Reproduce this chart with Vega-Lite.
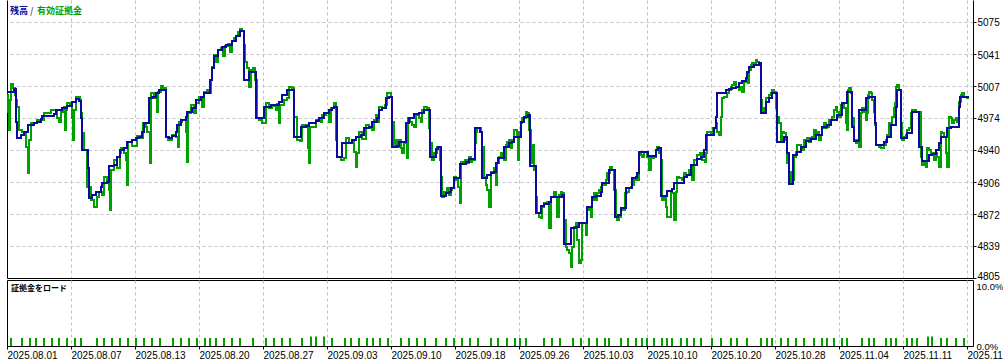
{
"$schema": "https://vega.github.io/schema/vega-lite/v6.json",
"background": "white",
"padding": {"left": 3, "top": 0, "right": 0, "bottom": 0},
"config": {"view": {"stroke": null}, "axis": {"labelFont": "Liberation Sans", "labelFontSize": 10, "labelColor": "black", "domainColor": "black", "tickColor": "black"}},
"datasets": {
"balance": [{"n":0,"v":5001.2},{"n":7,"v":5004.3},{"n":9,"v":4969.5},{"n":10,"v":4952.7},{"n":14,"v":4955.8},{"n":17,"v":4959.0},{"n":21,"v":4966.4},{"n":27,"v":4968.5},{"n":30,"v":4969.5},{"n":34,"v":4972.7},{"n":35,"v":4975.9},{"n":47,"v":4978.0},{"n":49,"v":4982.2},{"n":55,"v":4984.3},{"n":60,"v":4986.4},{"n":65,"v":4990.6},{"n":69,"v":4993.8},{"n":72,"v":4991.7},{"n":74,"v":4973.8},{"n":75,"v":4940.0},{"n":81,"v":4921.0},{"n":82,"v":4889.4},{"n":85,"v":4892.5},{"n":89,"v":4895.7},{"n":94,"v":4901.0},{"n":95,"v":4905.2},{"n":100,"v":4906.2},{"n":102,"v":4923.1},{"n":107,"v":4924.2},{"n":110,"v":4932.6},{"n":113,"v":4940.0},{"n":117,"v":4942.1},{"n":120,"v":4948.4},{"n":125,"v":4950.5},{"n":129,"v":4952.7},{"n":132,"v":4953.7},{"n":135,"v":4959.0},{"n":137,"v":4968.5},{"n":142,"v":4994.8},{"n":145,"v":4995.9},{"n":149,"v":5000.1},{"n":152,"v":5003.3},{"n":159,"v":4953.7},{"n":162,"v":4952.7},{"n":165,"v":4954.8},{"n":169,"v":4959.0},{"n":170,"v":4966.4},{"n":174,"v":4971.6},{"n":179,"v":4974.8},{"n":180,"v":4980.1},{"n":185,"v":4984.3},{"n":189,"v":4992.7},{"n":194,"v":4995.9},{"n":197,"v":5000.1},{"n":203,"v":5013.8},{"n":205,"v":5026.5},{"n":207,"v":5039.1},{"n":211,"v":5045.5},{"n":215,"v":5048.6},{"n":219,"v":5050.7},{"n":225,"v":5055.0},{"n":229,"v":5060.2},{"n":233,"v":5065.5},{"n":237,"v":5013.8},{"n":242,"v":5022.3},{"n":249,"v":4973.8},{"n":257,"v":4985.4},{"n":264,"v":4987.5},{"n":272,"v":4990.6},{"n":275,"v":4998.0},{"n":280,"v":5003.3},{"n":287,"v":4953.7},{"n":294,"v":4964.3},{"n":299,"v":4965.3},{"n":302,"v":4968.5},{"n":309,"v":4970.6},{"n":312,"v":4973.8},{"n":317,"v":4979.0},{"n":322,"v":4982.2},{"n":325,"v":4984.3},{"n":327,"v":4985.4},{"n":330,"v":4932.6},{"n":335,"v":4947.4},{"n":345,"v":4950.5},{"n":349,"v":4953.7},{"n":354,"v":4955.8},{"n":357,"v":4963.2},{"n":362,"v":4964.3},{"n":365,"v":4969.5},{"n":370,"v":4973.8},{"n":372,"v":4982.2},{"n":375,"v":4984.3},{"n":379,"v":4994.8},{"n":382,"v":4995.9},{"n":385,"v":4943.2},{"n":390,"v":4944.2},{"n":392,"v":4948.4},{"n":399,"v":4968.5},{"n":402,"v":4973.8},{"n":407,"v":4978.0},{"n":412,"v":4979.0},{"n":417,"v":4982.2},{"n":423,"v":4932.6},{"n":429,"v":4941.1},{"n":431,"v":4943.2},{"n":434,"v":4891.5},{"n":439,"v":4894.6},{"n":442,"v":4895.7},{"n":444,"v":4899.9},{"n":447,"v":4910.5},{"n":453,"v":4925.2},{"n":459,"v":4927.3},{"n":462,"v":4930.5},{"n":468,"v":4963.2},{"n":473,"v":4959.0},{"n":475,"v":4910.5},{"n":480,"v":4913.6},{"n":484,"v":4915.7},{"n":487,"v":4916.8},{"n":489,"v":4926.3},{"n":491,"v":4931.6},{"n":497,"v":4943.2},{"n":502,"v":4947.4},{"n":505,"v":4948.4},{"n":507,"v":4953.7},{"n":514,"v":4969.5},{"n":517,"v":4974.8},{"n":521,"v":4976.9},{"n":523,"v":4923.1},{"n":529,"v":4873.6},{"n":534,"v":4880.9},{"n":537,"v":4883.0},{"n":542,"v":4885.2},{"n":544,"v":4890.4},{"n":555,"v":4892.5},{"n":557,"v":4840.9},{"n":564,"v":4857.7},{"n":569,"v":4858.8},{"n":572,"v":4863.0},{"n":580,"v":4879.9},{"n":585,"v":4890.4},{"n":589,"v":4891.5},{"n":594,"v":4895.7},{"n":595,"v":4905.2},{"n":602,"v":4918.9},{"n":608,"v":4869.3},{"n":611,"v":4871.4},{"n":614,"v":4878.8},{"n":619,"v":4899.9},{"n":625,"v":4910.5},{"n":629,"v":4911.5},{"n":630,"v":4915.7},{"n":632,"v":4937.9},{"n":641,"v":4933.7},{"n":649,"v":4940.0},{"n":651,"v":4942.1},{"n":654,"v":4891.5},{"n":660,"v":4896.8},{"n":665,"v":4898.9},{"n":667,"v":4905.2},{"n":677,"v":4911.5},{"n":680,"v":4913.6},{"n":684,"v":4924.2},{"n":690,"v":4930.5},{"n":694,"v":4932.6},{"n":697,"v":4940.0},{"n":699,"v":4955.8},{"n":707,"v":4963.2},{"n":709,"v":4974.8},{"n":710,"v":5000.1},{"n":719,"v":5003.3},{"n":722,"v":5004.3},{"n":725,"v":5005.4},{"n":729,"v":5006.4},{"n":732,"v":5010.7},{"n":735,"v":5012.8},{"n":739,"v":5015.9},{"n":740,"v":5022.3},{"n":742,"v":5027.5},{"n":747,"v":5029.6},{"n":752,"v":5031.8},{"n":754,"v":4979.0},{"n":759,"v":4990.6},{"n":762,"v":4994.8},{"n":765,"v":5000.1},{"n":770,"v":4948.4},{"n":777,"v":4953.7},{"n":780,"v":4936.8},{"n":782,"v":4904.1},{"n":786,"v":4934.7},{"n":790,"v":4937.9},{"n":794,"v":4943.2},{"n":799,"v":4949.5},{"n":804,"v":4951.6},{"n":809,"v":4955.8},{"n":815,"v":4964.3},{"n":820,"v":4966.4},{"n":824,"v":4971.6},{"n":830,"v":4976.9},{"n":835,"v":4989.6},{"n":840,"v":5001.2},{"n":845,"v":4964.3},{"n":847,"v":4949.5},{"n":852,"v":4982.2},{"n":859,"v":4994.8},{"n":862,"v":4995.9},{"n":868,"v":4968.5},{"n":869,"v":4945.3},{"n":877,"v":4948.4},{"n":880,"v":4953.7},{"n":884,"v":4966.4},{"n":889,"v":4985.4},{"n":890,"v":5003.3},{"n":894,"v":4952.7},{"n":900,"v":4957.9},{"n":905,"v":4980.1},{"n":912,"v":4943.2},{"n":915,"v":4928.4},{"n":922,"v":4934.7},{"n":925,"v":4935.8},{"n":929,"v":4940.0},{"n":932,"v":4947.4},{"n":934,"v":4953.7},{"n":940,"v":4963.2},{"n":944,"v":4964.3},{"n":952,"v":4985.4},{"n":953,"v":4995.9},{"n":962,"v":4995.9}],
"equity": [{"n":0,"v":4998.0},{"n":1,"v":4980.1},{"n":2,"v":4961.1},{"n":3,"v":4992.7},{"n":4,"v":5009.6},{"n":6,"v":5005.4},{"n":8,"v":4998.0},{"n":9,"v":4992.7},{"n":10,"v":4985.4},{"n":12,"v":4961.1},{"n":15,"v":4959.0},{"n":19,"v":4943.2},{"n":21,"v":4915.7},{"n":22,"v":4950.5},{"n":24,"v":4968.5},{"n":30,"v":4971.6},{"n":37,"v":4979.0},{"n":44,"v":4982.2},{"n":47,"v":4982.2},{"n":50,"v":4973.8},{"n":52,"v":4969.5},{"n":54,"v":4980.1},{"n":57,"v":4985.4},{"n":58,"v":4961.1},{"n":59,"v":4982.2},{"n":60,"v":4989.6},{"n":63,"v":4986.4},{"n":65,"v":4973.8},{"n":66,"v":4950.5},{"n":67,"v":4982.2},{"n":69,"v":4995.9},{"n":73,"v":4992.7},{"n":74,"v":4979.0},{"n":75,"v":4957.9},{"n":77,"v":4940.0},{"n":80,"v":4901.0},{"n":84,"v":4887.3},{"n":87,"v":4879.9},{"n":90,"v":4890.4},{"n":92,"v":4895.7},{"n":95,"v":4892.5},{"n":97,"v":4911.5},{"n":100,"v":4908.4},{"n":102,"v":4897.8},{"n":103,"v":4876.7},{"n":104,"v":4918.9},{"n":107,"v":4929.5},{"n":110,"v":4921.0},{"n":113,"v":4936.8},{"n":114,"v":4942.1},{"n":117,"v":4936.8},{"n":119,"v":4929.5},{"n":120,"v":4903.1},{"n":121,"v":4948.4},{"n":125,"v":4944.2},{"n":130,"v":4954.8},{"n":134,"v":4952.7},{"n":136,"v":4968.5},{"n":139,"v":4964.3},{"n":140,"v":4959.0},{"n":143,"v":4926.3},{"n":144,"v":5000.1},{"n":147,"v":4994.8},{"n":150,"v":4980.1},{"n":151,"v":5001.2},{"n":154,"v":5007.5},{"n":156,"v":5005.4},{"n":159,"v":4953.7},{"n":161,"v":4950.5},{"n":164,"v":4950.5},{"n":165,"v":4955.8},{"n":169,"v":4953.7},{"n":171,"v":4943.2},{"n":172,"v":4969.5},{"n":175,"v":4971.6},{"n":179,"v":4959.0},{"n":180,"v":4927.3},{"n":181,"v":4979.0},{"n":184,"v":4987.5},{"n":187,"v":4979.0},{"n":189,"v":4989.6},{"n":192,"v":4995.9},{"n":195,"v":4985.4},{"n":197,"v":5001.2},{"n":200,"v":5003.3},{"n":202,"v":5000.1},{"n":204,"v":5013.8},{"n":205,"v":5027.5},{"n":207,"v":5040.2},{"n":209,"v":5032.8},{"n":211,"v":5045.5},{"n":214,"v":5047.6},{"n":216,"v":5039.1},{"n":218,"v":5049.7},{"n":221,"v":5051.8},{"n":223,"v":5043.4},{"n":225,"v":5055.0},{"n":227,"v":5058.1},{"n":229,"v":5060.2},{"n":231,"v":5064.5},{"n":233,"v":5067.6},{"n":235,"v":5065.5},{"n":237,"v":5050.7},{"n":238,"v":5032.8},{"n":240,"v":5026.5},{"n":242,"v":5006.4},{"n":244,"v":5024.4},{"n":246,"v":5026.5},{"n":248,"v":5013.8},{"n":250,"v":4973.8},{"n":252,"v":4971.6},{"n":255,"v":4968.5},{"n":259,"v":4989.6},{"n":262,"v":4984.3},{"n":265,"v":4986.4},{"n":269,"v":4982.2},{"n":270,"v":4988.5},{"n":272,"v":4968.5},{"n":273,"v":4987.5},{"n":277,"v":4992.7},{"n":280,"v":4994.8},{"n":282,"v":5006.4},{"n":285,"v":5005.4},{"n":287,"v":4974.8},{"n":290,"v":4950.5},{"n":293,"v":4949.5},{"n":295,"v":4966.4},{"n":299,"v":4966.4},{"n":301,"v":4942.1},{"n":302,"v":4926.3},{"n":303,"v":4964.3},{"n":309,"v":4971.6},{"n":312,"v":4973.8},{"n":314,"v":4969.5},{"n":315,"v":4976.9},{"n":319,"v":4979.0},{"n":322,"v":4969.5},{"n":324,"v":4984.3},{"n":327,"v":4989.6},{"n":329,"v":4950.5},{"n":330,"v":4932.6},{"n":334,"v":4929.5},{"n":337,"v":4931.6},{"n":339,"v":4952.7},{"n":342,"v":4947.4},{"n":345,"v":4948.4},{"n":347,"v":4937.9},{"n":349,"v":4922.1},{"n":350,"v":4936.8},{"n":352,"v":4959.0},{"n":355,"v":4951.6},{"n":359,"v":4966.4},{"n":362,"v":4963.2},{"n":365,"v":4961.1},{"n":367,"v":4971.6},{"n":369,"v":4976.9},{"n":370,"v":4969.5},{"n":372,"v":4985.4},{"n":375,"v":4984.3},{"n":378,"v":4987.5},{"n":380,"v":5000.1},{"n":384,"v":4995.9},{"n":385,"v":4969.5},{"n":387,"v":4945.3},{"n":389,"v":4950.5},{"n":390,"v":4943.2},{"n":392,"v":4950.5},{"n":394,"v":4942.1},{"n":395,"v":4936.8},{"n":397,"v":4947.4},{"n":400,"v":4931.6},{"n":401,"v":4973.8},{"n":403,"v":4969.5},{"n":405,"v":4966.4},{"n":407,"v":4964.3},{"n":409,"v":4976.9},{"n":412,"v":4973.8},{"n":414,"v":4969.5},{"n":415,"v":4982.2},{"n":417,"v":4985.4},{"n":420,"v":4984.3},{"n":422,"v":4963.2},{"n":423,"v":4947.4},{"n":425,"v":4929.5},{"n":427,"v":4936.8},{"n":430,"v":4943.2},{"n":433,"v":4929.5},{"n":434,"v":4911.5},{"n":435,"v":4890.4},{"n":437,"v":4895.7},{"n":440,"v":4899.9},{"n":442,"v":4892.5},{"n":444,"v":4897.8},{"n":445,"v":4899.9},{"n":447,"v":4911.5},{"n":449,"v":4908.4},{"n":451,"v":4901.0},{"n":453,"v":4884.1},{"n":454,"v":4927.3},{"n":458,"v":4929.5},{"n":460,"v":4926.3},{"n":462,"v":4932.6},{"n":464,"v":4927.3},{"n":465,"v":4929.5},{"n":468,"v":4947.4},{"n":469,"v":4959.0},{"n":470,"v":4963.2},{"n":474,"v":4959.0},{"n":475,"v":4943.2},{"n":477,"v":4911.5},{"n":479,"v":4903.1},{"n":480,"v":4897.8},{"n":482,"v":4879.9},{"n":484,"v":4916.8},{"n":487,"v":4921.0},{"n":489,"v":4903.1},{"n":490,"v":4926.3},{"n":492,"v":4932.6},{"n":494,"v":4936.8},{"n":495,"v":4932.6},{"n":497,"v":4929.5},{"n":499,"v":4945.3},{"n":500,"v":4948.4},{"n":502,"v":4950.5},{"n":504,"v":4942.1},{"n":505,"v":4950.5},{"n":507,"v":4961.1},{"n":510,"v":4955.8},{"n":511,"v":4929.5},{"n":512,"v":4959.0},{"n":514,"v":4968.5},{"n":515,"v":4973.8},{"n":519,"v":4980.1},{"n":520,"v":4979.0},{"n":522,"v":4961.1},{"n":524,"v":4926.3},{"n":525,"v":4945.3},{"n":527,"v":4918.9},{"n":529,"v":4890.4},{"n":530,"v":4873.6},{"n":532,"v":4869.3},{"n":534,"v":4868.3},{"n":535,"v":4879.9},{"n":537,"v":4884.1},{"n":540,"v":4885.2},{"n":542,"v":4857.7},{"n":544,"v":4890.4},{"n":547,"v":4895.7},{"n":549,"v":4890.4},{"n":550,"v":4869.3},{"n":552,"v":4892.5},{"n":554,"v":4895.7},{"n":555,"v":4894.6},{"n":557,"v":4866.2},{"n":559,"v":4837.7},{"n":560,"v":4834.5},{"n":562,"v":4831.4},{"n":564,"v":4816.6},{"n":565,"v":4837.7},{"n":567,"v":4858.8},{"n":569,"v":4863.0},{"n":570,"v":4845.1},{"n":572,"v":4820.8},{"n":574,"v":4824.0},{"n":575,"v":4863.0},{"n":577,"v":4863.0},{"n":579,"v":4850.4},{"n":580,"v":4876.7},{"n":582,"v":4878.8},{"n":584,"v":4869.3},{"n":585,"v":4887.3},{"n":587,"v":4894.6},{"n":589,"v":4887.3},{"n":590,"v":4894.6},{"n":592,"v":4897.8},{"n":594,"v":4901.0},{"n":595,"v":4905.2},{"n":597,"v":4903.1},{"n":599,"v":4908.4},{"n":600,"v":4915.7},{"n":603,"v":4922.1},{"n":605,"v":4918.9},{"n":607,"v":4897.8},{"n":609,"v":4869.3},{"n":610,"v":4866.2},{"n":612,"v":4869.3},{"n":614,"v":4878.8},{"n":615,"v":4876.7},{"n":617,"v":4876.7},{"n":618,"v":4894.6},{"n":620,"v":4895.7},{"n":622,"v":4899.9},{"n":624,"v":4901.0},{"n":625,"v":4903.1},{"n":627,"v":4908.4},{"n":629,"v":4911.5},{"n":630,"v":4908.4},{"n":632,"v":4936.8},{"n":634,"v":4934.7},{"n":635,"v":4932.6},{"n":637,"v":4937.9},{"n":639,"v":4937.9},{"n":640,"v":4932.6},{"n":642,"v":4918.9},{"n":644,"v":4932.6},{"n":645,"v":4931.6},{"n":647,"v":4932.6},{"n":649,"v":4940.0},{"n":650,"v":4943.2},{"n":652,"v":4936.8},{"n":654,"v":4929.5},{"n":655,"v":4887.3},{"n":657,"v":4890.4},{"n":659,"v":4879.9},{"n":660,"v":4869.3},{"n":664,"v":4895.7},{"n":665,"v":4894.6},{"n":667,"v":4866.2},{"n":669,"v":4895.7},{"n":670,"v":4911.5},{"n":672,"v":4910.5},{"n":675,"v":4908.4},{"n":677,"v":4915.7},{"n":679,"v":4913.6},{"n":680,"v":4913.6},{"n":682,"v":4918.9},{"n":684,"v":4922.1},{"n":685,"v":4908.4},{"n":687,"v":4929.5},{"n":690,"v":4934.7},{"n":693,"v":4936.8},{"n":695,"v":4929.5},{"n":698,"v":4927.3},{"n":699,"v":4936.8},{"n":700,"v":4959.0},{"n":704,"v":4955.8},{"n":706,"v":4963.2},{"n":709,"v":4968.5},{"n":710,"v":4959.0},{"n":712,"v":4955.8},{"n":714,"v":4974.8},{"n":715,"v":4994.8},{"n":717,"v":4995.9},{"n":720,"v":5000.1},{"n":722,"v":5003.3},{"n":724,"v":5006.4},{"n":725,"v":5008.6},{"n":727,"v":5011.7},{"n":729,"v":5006.4},{"n":732,"v":5003.3},{"n":734,"v":5006.4},{"n":735,"v":5001.2},{"n":737,"v":5011.7},{"n":740,"v":5015.9},{"n":741,"v":5010.7},{"n":742,"v":5024.4},{"n":744,"v":5029.6},{"n":745,"v":5031.8},{"n":749,"v":5034.9},{"n":750,"v":5032.8},{"n":752,"v":5031.8},{"n":754,"v":4992.7},{"n":755,"v":4980.1},{"n":757,"v":4984.3},{"n":759,"v":4994.8},{"n":762,"v":4998.0},{"n":764,"v":5000.1},{"n":765,"v":5003.3},{"n":767,"v":5001.2},{"n":769,"v":4984.3},{"n":770,"v":4974.8},{"n":772,"v":4968.5},{"n":774,"v":4950.5},{"n":775,"v":4959.0},{"n":777,"v":4957.9},{"n":779,"v":4950.5},{"n":780,"v":4926.3},{"n":782,"v":4916.8},{"n":784,"v":4905.2},{"n":785,"v":4908.4},{"n":787,"v":4932.6},{"n":789,"v":4937.9},{"n":790,"v":4945.3},{"n":794,"v":4943.2},{"n":795,"v":4940.0},{"n":797,"v":4950.5},{"n":800,"v":4952.7},{"n":802,"v":4948.4},{"n":804,"v":4952.7},{"n":805,"v":4953.7},{"n":807,"v":4961.1},{"n":809,"v":4955.8},{"n":810,"v":4959.0},{"n":812,"v":4950.5},{"n":814,"v":4955.8},{"n":815,"v":4963.2},{"n":817,"v":4968.5},{"n":819,"v":4963.2},{"n":820,"v":4964.3},{"n":822,"v":4971.6},{"n":825,"v":4974.8},{"n":827,"v":4982.2},{"n":829,"v":4985.4},{"n":830,"v":4980.1},{"n":832,"v":4974.8},{"n":834,"v":4987.5},{"n":835,"v":4989.6},{"n":837,"v":4984.3},{"n":839,"v":4968.5},{"n":840,"v":4961.1},{"n":841,"v":5003.3},{"n":842,"v":5005.4},{"n":844,"v":5000.1},{"n":845,"v":4973.8},{"n":847,"v":4950.5},{"n":849,"v":4947.4},{"n":850,"v":4950.5},{"n":852,"v":4943.2},{"n":854,"v":4979.0},{"n":855,"v":4984.3},{"n":857,"v":4980.1},{"n":859,"v":4971.6},{"n":860,"v":4979.0},{"n":861,"v":4998.0},{"n":862,"v":5001.2},{"n":864,"v":5000.1},{"n":865,"v":4992.7},{"n":867,"v":4980.1},{"n":868,"v":4966.4},{"n":869,"v":4945.3},{"n":872,"v":4943.2},{"n":874,"v":4942.1},{"n":877,"v":4945.3},{"n":879,"v":4950.5},{"n":880,"v":4955.8},{"n":882,"v":4968.5},{"n":884,"v":4966.4},{"n":885,"v":4974.8},{"n":887,"v":4984.3},{"n":888,"v":4989.6},{"n":889,"v":5006.4},{"n":890,"v":5008.6},{"n":892,"v":5003.3},{"n":894,"v":4968.5},{"n":895,"v":4950.5},{"n":897,"v":4953.7},{"n":899,"v":4955.8},{"n":900,"v":4961.1},{"n":902,"v":4963.2},{"n":904,"v":4979.0},{"n":905,"v":4982.2},{"n":909,"v":4980.1},{"n":912,"v":4980.1},{"n":914,"v":4932.6},{"n":915,"v":4924.2},{"n":917,"v":4926.3},{"n":919,"v":4922.1},{"n":920,"v":4942.1},{"n":922,"v":4940.0},{"n":924,"v":4934.7},{"n":925,"v":4936.8},{"n":927,"v":4929.5},{"n":929,"v":4936.8},{"n":930,"v":4932.6},{"n":932,"v":4922.1},{"n":934,"v":4959.0},{"n":935,"v":4957.9},{"n":937,"v":4953.7},{"n":939,"v":4936.8},{"n":940,"v":4922.1},{"n":942,"v":4974.8},{"n":944,"v":4973.8},{"n":945,"v":4968.5},{"n":947,"v":4971.6},{"n":949,"v":4973.8},{"n":950,"v":4969.5},{"n":952,"v":4990.6},{"n":954,"v":4998.0},{"n":955,"v":5000.1},{"n":957,"v":4995.9},{"n":960,"v":4994.8},{"n":962,"v":4994.8}],
"load": [{"n":4,"p":1.35},{"n":15,"p":1.35},{"n":23,"p":1.35},{"n":29,"p":1.35},{"n":37,"p":1.35},{"n":45,"p":1.35},{"n":52,"p":1.35},{"n":60,"p":1.35},{"n":68,"p":1.35},{"n":74,"p":1.35},{"n":90,"p":1.35},{"n":97,"p":1.35},{"n":105,"p":1.35},{"n":113,"p":1.35},{"n":121,"p":1.35},{"n":129,"p":1.35},{"n":137,"p":1.35},{"n":145,"p":1.35},{"n":153,"p":1.35},{"n":166,"p":1.35},{"n":174,"p":1.35},{"n":182,"p":1.35},{"n":190,"p":1.35},{"n":198,"p":1.35},{"n":203,"p":1.35},{"n":209,"p":1.35},{"n":217,"p":1.35},{"n":225,"p":1.35},{"n":233,"p":1.35},{"n":246,"p":1.35},{"n":259,"p":1.35},{"n":267,"p":1.35},{"n":275,"p":1.35},{"n":283,"p":1.35},{"n":295,"p":1.35},{"n":304,"p":1.6},{"n":309,"p":1.6},{"n":317,"p":1.6},{"n":325,"p":1.35},{"n":338,"p":1.35},{"n":344,"p":1.35},{"n":352,"p":1.35},{"n":360,"p":1.35},{"n":366,"p":1.35},{"n":373,"p":1.35},{"n":381,"p":1.35},{"n":394,"p":1.35},{"n":402,"p":1.35},{"n":410,"p":1.35},{"n":418,"p":1.35},{"n":429,"p":1.35},{"n":439,"p":1.35},{"n":447,"p":1.35},{"n":455,"p":1.35},{"n":463,"p":1.35},{"n":471,"p":1.35},{"n":484,"p":1.35},{"n":491,"p":1.35},{"n":500,"p":1.35},{"n":508,"p":1.35},{"n":513,"p":1.35},{"n":519,"p":1.35},{"n":537,"p":1.35},{"n":545,"p":1.35},{"n":553,"p":1.35},{"n":566,"p":1.35},{"n":574,"p":1.35},{"n":582,"p":1.35},{"n":590,"p":1.35},{"n":598,"p":1.35},{"n":602,"p":1.35},{"n":614,"p":1.35},{"n":621,"p":1.35},{"n":629,"p":1.35},{"n":635,"p":1.35},{"n":640,"p":1.35},{"n":647,"p":1.35},{"n":655,"p":1.35},{"n":660,"p":1.35},{"n":665,"p":1.35},{"n":674,"p":1.35},{"n":680,"p":1.35},{"n":687,"p":1.35},{"n":694,"p":1.35},{"n":705,"p":1.35},{"n":714,"p":1.35},{"n":724,"p":1.35},{"n":730,"p":1.35},{"n":740,"p":1.35},{"n":754,"p":1.35},{"n":760,"p":1.35},{"n":765,"p":1.35},{"n":774,"p":1.35},{"n":781,"p":1.35},{"n":789,"p":1.35},{"n":797,"p":1.35},{"n":807,"p":1.35},{"n":815,"p":1.35},{"n":820,"p":1.35},{"n":827,"p":1.35},{"n":835,"p":1.35},{"n":840,"p":1.35},{"n":855,"p":1.35},{"n":862,"p":1.35},{"n":867,"p":1.35},{"n":879,"p":1.35},{"n":884,"p":1.35},{"n":889,"p":1.35},{"n":900,"p":1.35},{"n":905,"p":1.35},{"n":910,"p":1.35},{"n":921,"p":1.6},{"n":925,"p":1.6},{"n":934,"p":1.35},{"n":940,"p":1.35},{"n":949,"p":1.35},{"n":957,"p":1.35}]
},
"spacing": 2,
"bounds": "flush",
"resolve": {"scale": {"y": "independent"}},
"vconcat": [
{
"width": 966, "height": 278,
"layer": [
{"data": {"name": "equity"}, "mark": {"type": "line", "strokeWidth": 2, "interpolate": "step-after", "color": "#00a000"},
"encoding": {
"x": {"field": "n", "type": "quantitative", "scale": {"domain": [0, 966], "nice": false, "zero": false}, "axis": {"values": [0,32,64,96,128,160,192,224,256,288,320,352,384,416,448,480,512,544,576,608,640,672,704,736,768,800,832,864,896,928,960], "labels": false, "ticks": false, "domain": true, "domainColor": "black", "grid": true, "gridColor": {"condition": {"test": "datum.value === 0", "value": "transparent"}, "value": "#c0c0c0"}, "gridDash": [3,3], "title": null}},
"y": {"field": "v", "type": "quantitative", "scale": {"domain": [4805, 5098.2], "nice": false, "zero": false}, "axis": {"orient": "left", "labels": false, "ticks": false, "grid": false, "domain": true, "domainColor": "black", "title": null}}
}},
{"data": {"name": "balance"}, "mark": {"type": "line", "strokeWidth": 2, "interpolate": "step-after", "color": "#0a0aa0"},
"encoding": {
"x": {"field": "n", "type": "quantitative"},
"y": {"field": "v", "type": "quantitative", "axis": {"orient": "right", "values": [4805, 4839, 4872, 4906, 4940, 4974, 5007, 5041, 5075], "format": "d", "tickSize": 3, "labelPadding": 1, "labelBaseline": {"condition": {"test": "datum.value === 4805", "value": "alphabetic"}, "value": "middle"}, "labelOffset": 1, "grid": true, "gridColor": "#c0c0c0", "gridDash": [3,3], "domain": true, "domainColor": "black", "labelOverlap": false, "labelBound": false, "labelFlush": false, "title": null}}
}},
{"data": {"values": [{}]},
"mark": {"type": "text", "text": "残高", "align": "left", "baseline": "middle", "font": "Noto Sans CJK JP", "fontSize": 9, "fontWeight": "bold", "color": "#0a0aa0"},
"encoding": {"x": {"datum": 3, "type": "quantitative"}, "y": {"datum": 5086.6, "type": "quantitative", "axis": null}}},
{"data": {"values": [{}]},
"mark": {"type": "text", "text": "/", "align": "left", "baseline": "middle", "font": "Noto Sans CJK JP", "fontSize": 9, "fontWeight": "bold", "color": "#7a5a8a"},
"encoding": {"x": {"datum": 23, "type": "quantitative"}, "y": {"datum": 5086.6, "type": "quantitative", "axis": null}}},
{"data": {"values": [{}]},
"mark": {"type": "text", "text": "有効証拠金", "align": "left", "baseline": "middle", "font": "Noto Sans CJK JP", "fontSize": 9, "fontWeight": "bold", "color": "#00a000"},
"encoding": {"x": {"datum": 30, "type": "quantitative"}, "y": {"datum": 5086.6, "type": "quantitative", "axis": null}}}
],
"resolve": {"axis": {"y": "independent"}}
},
{
"width": 966, "height": 66,
"view": {"stroke": "black"},
"layer": [
{"data": {"name": "load"},
"mark": {"type": "rule", "strokeWidth": 2, "color": "#00a000"},
"encoding": {
"x": {"field": "n", "type": "quantitative", "scale": {"domain": [0, 966], "nice": false, "zero": false}, "axis": {"values": [0,32,64,96,128,160,192,224,256,288,320,352,384,416,448,480,512,544,576,608,640,672,704,736,768,800,832,864,896,928,960], "labelExpr": "datum.value % 64 === 0 ? ['2025.08.01','2025.08.07','2025.08.13','2025.08.20','2025.08.27','2025.09.03','2025.09.10','2025.09.18','2025.09.26','2025.10.03','2025.10.10','2025.10.20','2025.10.28','2025.11.04','2025.11.11','2025.11.18'][datum.value / 64] : ''", "labelAlign": "left", "labelBaseline": "top", "labelPadding": 1, "tickSize": 3, "tickColor": {"condition": {"test": "datum.value % 64 === 0", "value": "black"}, "value": "transparent"}, "grid": true, "gridColor": {"condition": {"test": "datum.value === 0", "value": "transparent"}, "value": "#c0c0c0"}, "gridDash": [3,3], "domain": false, "labelOverlap": false, "labelBound": false, "labelFlush": false, "title": null}},
"y": {"field": "p", "type": "quantitative", "scale": {"domain": [0, 11], "nice": false, "zero": true}, "axis": {"orient": "right", "values": [0, 10], "labelExpr": "format(datum.value, '.1f') + '%'", "labelFontSize": 9.5, "grid": false, "ticks": false, "domain": false, "labelPadding": 3, "labelBaseline": "middle", "labelOverlap": false, "labelBound": false, "labelFlush": false, "title": null}},
"y2": {"datum": 0}
}},
{"data": {"values": [{}]},
"mark": {"type": "text", "text": "証拠金をロード", "align": "left", "baseline": "middle", "font": "Noto Sans CJK JP", "fontSize": 8, "fontWeight": "bold", "color": "black"},
"encoding": {"x": {"datum": 4, "type": "quantitative"}, "y": {"datum": 9.58, "type": "quantitative"}}}
]
}
]
}
